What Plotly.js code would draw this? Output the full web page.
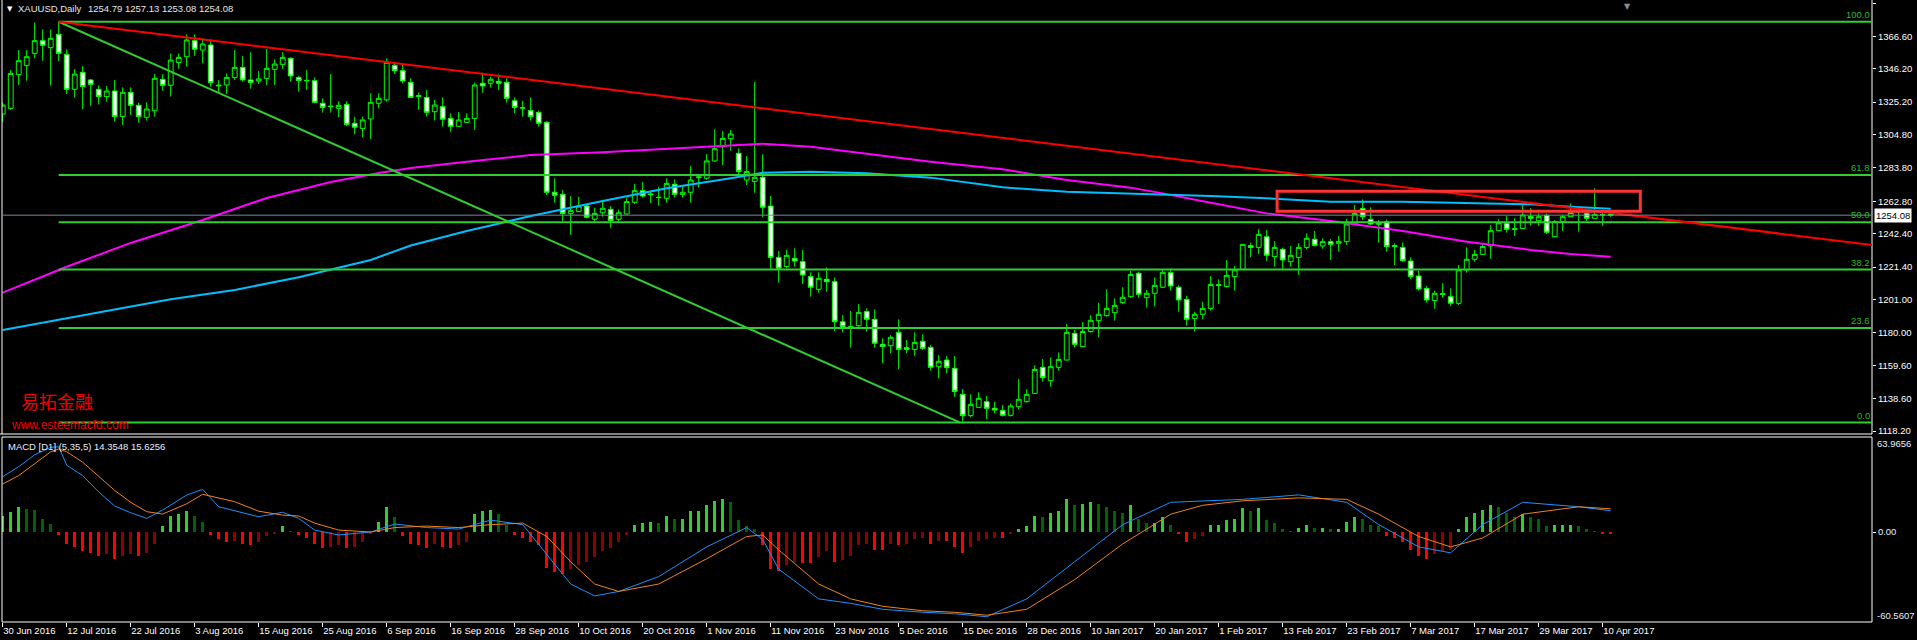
<!DOCTYPE html>
<html><head><meta charset="utf-8">
<script src="https://cdn.plot.ly/plotly-3.0.1.min.js"></script>
<style>html,body{margin:0;padding:0;background:#000;overflow:hidden}#chart{width:1917px;height:640px}</style>
</head><body><div id="chart"></div>
<script>
// ---- Candles (bar index 0 = 30 Jun 2016) ----
const openP = [1317.7,1321.3,1342.5,1348.2,1355.9,1363.9,1359.5,1367.9,1355.3,1333.3,1344.0,1339.2,1333.3,1328.7,1332.2,1316.1,1331.4,1323.2,1315.7,1319.8,
1339.6,1335.8,1350.1,1353.8,1363.9,1358.0,1361.2,1335.4,1336.0,1340.8,1347.1,1339.2,1338.5,1340.2,1345.9,1349.0,1352.8,1340.8,1338.9,1338.7,
1324.5,1322.4,1321.3,1323.8,1311.9,1308.7,1314.6,1324.5,1326.6,1348.4,1345.0,1337.7,1329.3,1328.2,1319.2,1322.4,1315.0,1310.0,1312.5,1315.0,
1337.1,1337.1,1338.3,1337.7,1326.1,1321.7,1319.9,1318.8,1312.5,1268.5,1267.2,1255.0,1256.3,1259.8,1251.5,1255.6,1257.7,1251.5,1254.8,1262.2,
1269.5,1267.4,1265.1,1264.7,1273.5,1267.2,1268.5,1277.7,1277.3,1288.2,1297.2,1302.2,1293.0,1276.2,1275.2,1277.9,1259.8,1227.5,1221.7,1226.9,
1224.8,1215.4,1207.4,1213.7,1212.2,1187.0,1183.9,1184.5,1193.5,1188.5,1172.8,1171.9,1180.3,1170.7,1169.6,1174.7,1170.9,1158.7,1162.9,1157.7,
1141.3,1127.9,1133.1,1136.7,1132.5,1131.2,1128.1,1133.5,1136.7,1141.9,1158.3,1149.9,1158.3,1162.9,1179.7,1171.3,1180.8,1187.7,1190.8,1192.7,
1199.0,1202.8,1217.5,1202.1,1204.9,1208.7,1217.9,1208.7,1201.1,1189.1,1191.7,1195.4,1210.3,1209.1,1215.4,1220.0,1234.9,1233.8,1240.5,1228.0,
1232.6,1224.8,1227.5,1233.8,1238.9,1234.7,1237.4,1236.4,1237.4,1248.5,1258.2,1251.4,1248.3,1250.0,1234.9,1233.8,1225.2,1215.8,1208.0,1200.3,
1204.7,1202.8,1198.6,1219.6,1226.3,1229.4,1234.7,1244.3,1248.9,1245.6,1245.6,1253.3,1250.6,1254.0,1240.5,1250.0,1253.1,1256.1,1255.2,1252.1,
1254.4,1254.79];
const highP = [1324.9,1345.4,1358.0,1358.0,1375.4,1371.0,1371.0,1375.8,1358.5,1346.1,1348.0,1339.8,1335.8,1335.4,1339.2,1334.5,1334.5,1324.9,1325.1,1342.9,
1342.9,1355.9,1355.9,1367.9,1367.9,1365.4,1364.7,1339.2,1343.3,1358.0,1354.3,1356.6,1344.8,1358.7,1352.2,1356.6,1353.4,1341.7,1345.4,1340.8,
1327.6,1342.9,1325.9,1325.9,1316.1,1316.1,1330.8,1330.8,1352.8,1350.7,1349.2,1340.2,1331.2,1332.9,1326.6,1328.2,1318.2,1319.0,1318.2,1337.5,
1343.8,1341.3,1342.7,1340.2,1328.2,1326.1,1328.2,1319.9,1313.3,1277.3,1269.9,1266.1,1265.7,1260.5,1258.8,1262.6,1259.8,1257.7,1264.7,1273.7,
1274.9,1269.5,1272.0,1277.3,1276.6,1272.4,1285.0,1279.4,1292.6,1308.1,1307.1,1307.7,1296.1,1291.3,1337.9,1292.4,1266.1,1231.5,1232.2,1233.2,
1232.2,1218.1,1218.1,1221.2,1214.9,1191.2,1193.8,1198.2,1195.4,1194.8,1176.6,1178.6,1188.5,1175.5,1180.3,1179.1,1172.4,1166.1,1165.4,1165.4,
1144.7,1141.3,1142.6,1140.3,1136.7,1134.6,1135.6,1151.0,1144.5,1159.6,1163.5,1164.6,1167.7,1185.6,1181.8,1186.8,1191.2,1199.0,1207.4,1201.7,
1208.7,1219.1,1218.5,1207.0,1214.9,1219.6,1220.6,1209.9,1203.4,1193.3,1199.6,1215.8,1213.7,1225.9,1222.1,1235.9,1236.8,1245.4,1244.7,1237.8,
1233.6,1234.7,1236.4,1242.6,1244.1,1239.5,1239.1,1241.0,1251.7,1260.5,1264.0,1259.0,1251.0,1251.4,1236.4,1236.9,1227.5,1219.1,1209.5,1206.6,
1211.2,1208.0,1222.7,1233.8,1232.2,1236.4,1247.9,1251.7,1253.6,1252.1,1260.5,1258.4,1255.2,1255.2,1251.0,1254.2,1261.5,1259.4,1257.8,1271.0,
1257.3,1257.13];
const lowP = [1312.9,1320.3,1336.0,1338.7,1352.8,1351.3,1335.6,1351.1,1330.3,1328.0,1320.7,1322.8,1323.8,1325.5,1312.9,1310.8,1317.1,1312.3,1313.6,1316.1,
1332.4,1328.7,1346.3,1347.5,1354.3,1349.6,1335.0,1330.8,1330.3,1339.2,1338.1,1333.7,1336.6,1336.0,1336.0,1346.1,1338.1,1331.8,1332.9,1324.5,
1318.6,1318.6,1315.7,1310.2,1305.0,1303.1,1301.8,1321.3,1325.5,1342.9,1337.0,1328.0,1320.3,1316.1,1313.6,1309.8,1306.6,1309.8,1312.3,1307.7,
1331.2,1334.3,1332.9,1324.9,1318.2,1316.1,1313.6,1309.8,1266.8,1261.9,1250.0,1241.6,1256.1,1252.1,1250.0,1253.1,1246.2,1250.0,1254.6,1261.1,
1265.1,1261.5,1260.1,1261.9,1265.1,1265.1,1261.9,1271.4,1276.2,1287.7,1285.6,1294.7,1279.4,1273.1,1268.2,1252.7,1220.0,1211.6,1220.6,1221.7,
1210.7,1202.8,1205.3,1205.9,1181.2,1180.3,1170.7,1183.3,1180.7,1170.7,1160.8,1167.1,1157.0,1167.1,1165.6,1169.2,1156.2,1151.4,1154.5,1139.8,
1124.1,1126.8,1132.9,1125.6,1129.4,1127.3,1127.3,1131.9,1136.1,1141.7,1149.3,1146.1,1156.2,1162.7,1170.7,1171.1,1180.1,1177.0,1190.2,1187.7,
1198.2,1202.1,1202.1,1195.9,1196.6,1208.4,1206.6,1193.3,1184.5,1180.7,1188.5,1194.0,1198.2,1208.4,1206.6,1219.6,1227.6,1229.6,1225.4,1221.7,
1220.0,1221.7,1216.4,1232.6,1234.3,1233.0,1225.9,1231.1,1235.3,1248.3,1251.0,1247.9,1236.8,1231.1,1222.7,1224.8,1213.9,1206.6,1199.0,1195.2,
1202.1,1196.9,1197.5,1217.9,1224.8,1229.0,1226.7,1243.9,1243.1,1241.0,1245.4,1247.5,1247.3,1242.2,1240.1,1244.1,1252.9,1243.7,1250.4,1251.9,
1247.3,1253.08];
const closeP = [1323.4,1343.3,1351.3,1353.8,1363.9,1361.0,1365.4,1355.9,1333.3,1342.9,1335.0,1336.4,1328.7,1332.2,1316.1,1331.4,1323.2,1316.1,1320.9,1340.2,
1335.8,1351.7,1353.4,1364.3,1358.5,1361.8,1337.5,1335.8,1340.8,1347.1,1339.2,1337.5,1339.8,1346.5,1349.2,1353.4,1341.7,1338.9,1338.7,1325.1,
1321.9,1322.6,1323.2,1311.2,1309.4,1314.0,1325.1,1327.6,1350.3,1345.0,1338.5,1328.2,1328.9,1318.8,1323.4,1314.4,1310.0,1314.0,1315.0,1336.0,
1335.4,1339.6,1337.1,1327.6,1321.9,1321.5,1316.1,1311.9,1268.5,1266.6,1255.0,1256.9,1259.8,1252.7,1255.2,1258.4,1250.6,1255.6,1262.6,1269.5,
1266.1,1267.0,1265.3,1274.1,1267.2,1268.5,1276.2,1278.1,1288.2,1295.9,1302.4,1305.2,1281.5,1281.5,1277.9,1259.0,1227.5,1220.6,1228.8,1225.2,
1216.4,1208.7,1214.3,1212.2,1187.0,1183.9,1183.5,1192.9,1188.5,1173.4,1171.5,1177.2,1169.6,1169.6,1174.0,1170.3,1158.3,1162.1,1158.1,1143.0,
1127.9,1135.0,1138.8,1132.5,1131.4,1128.1,1134.0,1138.2,1141.3,1157.0,1151.8,1158.7,1163.3,1180.3,1172.8,1180.8,1187.9,1191.7,1195.4,1197.3,
1202.4,1216.8,1204.3,1204.9,1209.9,1218.1,1209.5,1200.7,1188.5,1191.7,1195.4,1210.5,1209.9,1216.2,1219.6,1235.7,1233.8,1242.0,1228.8,1233.8,
1225.9,1228.8,1233.8,1239.5,1235.1,1237.4,1235.7,1237.6,1248.5,1255.2,1253.1,1248.5,1249.3,1234.3,1234.5,1225.4,1215.4,1207.6,1200.7,1204.9,
1204.3,1198.6,1219.6,1226.3,1229.4,1234.3,1244.3,1249.3,1245.2,1245.2,1254.2,1252.1,1253.1,1243.3,1250.0,1253.1,1255.7,1256.5,1252.1,1254.6,
1254.2,1254.08];

// ---- X tick labels (every 8 bars) ----
const tickIdx = [0,8,16,24,32,40,48,56,64,72,80,88,96,104,112,120,128,136,144,152,160,168,176,184,192,200];
const tickText = ['30 Jun 2016','12 Jul 2016','22 Jul 2016','3 Aug 2016','15 Aug 2016','25 Aug 2016','6 Sep 2016','16 Sep 2016','28 Sep 2016','10 Oct 2016',
'20 Oct 2016','1 Nov 2016','11 Nov 2016','23 Nov 2016','5 Dec 2016','15 Dec 2016','28 Dec 2016','10 Jan 2017','20 Jan 2017','1 Feb 2017',
'13 Feb 2017','23 Feb 2017','7 Mar 2017','17 Mar 2017','29 Mar 2017','10 Apr 2017'];

// ---- Price axis ticks ----
const priceTicks = [1387.60,1366.60,1346.20,1325.20,1304.80,1283.80,1262.80,1242.40,1221.40,1201.00,1180.00,1159.60,1138.60,1118.20];

// ---- Moving averages (sampled) ----
const maMagIdx = [0,8,16,25,33,41,47,51,58,66,75,83,91,95,101,108,116,125,133,141,145,151,158,166,175,183,191,196,201];
const maMagVal = [1205.3,1221.6,1236.6,1251.0,1264.9,1274.9,1280.6,1283.8,1287.7,1291.9,1293.6,1295.7,1298.2,1299.1,1297.2,1292.6,1287.7,1283.0,1276.2,1271.4,1267.8,1261.9,1255.2,1250.4,1244.1,1237.4,1232.2,1229.6,1227.9];
const maCyanIdx = [0,21,29,37,46,51,58,63,66,75,83,91,95,101,108,116,125,133,141,151,158,166,175,183,191,196,201];
const maCyanVal = [1181.8,1201.1,1207.0,1215.0,1225.9,1235.0,1244.1,1250.0,1253.5,1263.0,1271.0,1277.3,1280.8,1281.4,1280.4,1277.7,1271.6,1268.8,1267.8,1266.1,1264.7,1262.5,1262.5,1261.9,1260.9,1259.4,1258.1];

// ---- Drawn objects ----
const fibHigh = 1375.8, fibLow = 1123.5, fibStartIdx = 7;
const fibLevels = [100.0, 61.8, 50.0, 38.2, 23.6, 0.0];
const fibLabels = ['100.0','61.8','50.0','38.2','23.6','0.0'];
const fibDiagIdx = [7, 119.7];
const fibDiagVal = [1375.8, 1123.5];
const trendIdx = [7, 233.7];
const trendVal = [1375.8, 1235.3];
const boxIdx = [159.3, 204.7];
const boxVal = [1256.5, 1269.1];
const lastPrice = 1254.08;

// ---- MACD (5,35,5) ----
const macdHist = [10.8,13.2,17.0,15.5,14.8,8.7,5.4,-2,-8,-10,-13,-14,-16,-15,-18,-16,-15,-16,-14,-8,
4.2,10.8,12.1,14.1,11,6.9,-2,-5,-7,-6,-8,-9,-7,-3,-1,4.2,1,-2,-4,-8,
-11,-10,-9,-11,-10,-7,-1,6.5,17,10,-3,-8,-9,-11,-8,-10,-11,-9,-7,12,
14,15,12,5,-2,-4,-7,-9,-24,-27,-28,-25,-22,-20,-17,-13,-11,-7,-2,5,
6,7,6,11,9,9,14,14,18,21,22,20,8,4,2,-9,-25,-26,-22,-20,
-21,-21,-17,-13,-20,-19,-16,-9,-8,-12,-12,-8,-9,-8,-5,-4,-8,-6,-6,-10,
-14,-10,-6,-5,-4,-4,-1,2,4,11,10,13,14,22,18,19,20,19,17,14,
13,18,9,6,6,10,5,-1,-7,-5,-3,5,5,8,9,16,14,16,8,6,
2,1,3,5,3,3,2,2,7,10,9,5,4,-3,-4,-7,-12,-16,-18,-15,
-13,-12,2,10,13,15,18,17,13,10,12,10,9,4,5,5,5,4,2,1,
-1,-1.2];
const macdIdx = [0,2,4,6,7,8,10,12,14,16,18,20,23,25,27,29,32,35,37,39,42,46,49,53,57,61,65,68,71,74,77,82,88,93,95,97,102,106,110,115,119,123,128,134,140,146,150,155,162,168,172,177,181,185,190,197,201];
const macdMain = [37.2,44,52,57,57.4,45,38,27,17.5,13,9.2,14.8,24.9,28.7,17,14.3,10.3,13.3,9.2,1.3,-2,0,5.4,3,2,8,5,-15,-35,-43,-40,-30,-10,3,-5,-25,-45,-48,-52,-54,-55,-57,-45,-20,5,20,21,22,25,20,5,-10,-14,5,20,17,14.35];
const macdSignal = [32.3,38,46,54,55.9,54,47,37.2,28,20,13.7,12.1,19,25.4,23,20.4,14,11.4,10.8,6,1.3,0,3,4,3,5,6,-3,-20,-35,-40,-35,-18,-3,-2,-12,-35,-45,-50,-53,-54,-56,-52,-32,-8,12,18,21,23,22,12,-3,-10,-4,12,17,15.63];
const macdTop = 63.9656, macdBottom = -60.5607;

// ---- Geometry ----
const W = 1917, H = 640, ML = 2, MR = 45, MT = 0, MB = 18;
const plotH = H - MT - MB, plotW = W - ML - MR;
const mainBottomPx = 434, macdTopPx = 437;
const mainDom = [1 - mainBottomPx / plotH, 1];
const macdDom = [0, 1 - macdTopPx / plotH];
const pxPerBar = 8;
const xRange = [-0.0875, -0.0875 + plotW / pxPerBar];
const yMainRange = [1116.34, 1389.5];

const idx = openP.map((_, i) => i);
const histIdx = macdHist.map((_, i) => i);
const histColor = macdHist.map((v, i) => {
  const prev = i > 0 ? macdHist[i - 1] : v;
  if (v >= 0) return v >= prev ? '#32cd32' : '#006400';
  return v <= prev ? '#ff0000' : '#8b0000';
});
const green = '#00ff00', fibGreen = '#32cd32';
const font = 'Liberation Sans, Arial, sans-serif';

const traces = [
  {type:'candlestick', x: idx, open: openP, high: highP, low: lowP, close: closeP, xaxis:'x', yaxis:'y',
   increasing:{line:{color:green, width:1}, fillcolor:'#000000'},
   decreasing:{line:{color:green, width:1}, fillcolor:'#ffffff'},
   whiskerwidth:0, hoverinfo:'skip', showlegend:false},
  {type:'scatter', mode:'lines', x: maMagIdx, y: maMagVal, xaxis:'x', yaxis:'y', line:{color:'#ff00ff', width:2}, hoverinfo:'skip'},
  {type:'scatter', mode:'lines', x: maCyanIdx, y: maCyanVal, xaxis:'x', yaxis:'y', line:{color:'#00bfff', width:2}, hoverinfo:'skip'},
  {type:'bar', x: histIdx, y: macdHist, xaxis:'x', yaxis:'y2', width:0.4, marker:{color:histColor, line:{width:0}}, hoverinfo:'skip'},
  {type:'scatter', mode:'lines', x: macdIdx, y: macdMain, xaxis:'x', yaxis:'y2', line:{color:'#1e90ff', width:1}, hoverinfo:'skip'},
  {type:'scatter', mode:'lines', x: macdIdx, y: macdSignal, xaxis:'x', yaxis:'y2', line:{color:'#f0821e', width:1}, hoverinfo:'skip'}
];

const shapes = [];
shapes.push({type:'line', xref:'paper', yref:'paper', x0:0, x1:0, y0:mainDom[0], y1:1.02, line:{color:'#fff', width:1}});
shapes.push({type:'line', xref:'paper', yref:'paper', x0:-0.01, x1:1, y0:mainDom[0], y1:mainDom[0], line:{color:'#fff', width:1}});
shapes.push({type:'line', xref:'paper', yref:'paper', x0:1, x1:1, y0:mainDom[0], y1:1.02, line:{color:'#fff', width:1}});
shapes.push({type:'rect', xref:'paper', yref:'paper', x0:0, x1:1, y0:0, y1:macdDom[1], line:{color:'#fff', width:1}});
fibLevels.forEach(l => {
  const v = fibLow + (fibHigh - fibLow) * l / 100;
  shapes.push({type:'line', xref:'x', yref:'y', x0:fibStartIdx, x1:xRange[1], y0:v, y1:v, line:{color:fibGreen, width:2}});
});
shapes.push({type:'line', xref:'x', yref:'y', x0:fibDiagIdx[0], x1:fibDiagIdx[1], y0:fibDiagVal[0], y1:fibDiagVal[1], line:{color:fibGreen, width:2}});
shapes.push({type:'line', xref:'x', yref:'y', x0:trendIdx[0], x1:trendIdx[1], y0:trendVal[0], y1:trendVal[1], line:{color:'#ff0000', width:2}});
shapes.push({type:'line', xref:'paper', yref:'y', x0:0, x1:1, y0:lastPrice, y1:lastPrice, line:{color:'#778899', width:1}});
shapes.push({type:'rect', xref:'x', yref:'y', x0:boxIdx[0], x1:boxIdx[1], y0:boxVal[0], y1:boxVal[1], line:{color:'#ff3333', width:3}});

const pxX = px => (px - ML) / plotW;
const pxY = py => 1 - (py - MT) / plotH;
const annotations = [];
fibLevels.forEach((l, k) => {
  const v = fibLow + (fibHigh - fibLow) * l / 100;
  annotations.push({xref:'paper', yref:'y', x:1, y:v, xanchor:'right', yanchor:'bottom', text:fibLabels[k], showarrow:false,
    font:{family:font, size:9.5, color:'#2eb82e'}});
});
annotations.push({xref:'paper', yref:'paper', x:pxX(5), y:pxY(9), xanchor:'left', yanchor:'middle', text:'▼', showarrow:false, font:{family:'DejaVu Sans', size:7, color:'#ffffff'}});
annotations.push({xref:'paper', yref:'paper', x:pxX(16), y:pxY(9), xanchor:'left', yanchor:'middle', text:'XAUUSD,Daily', showarrow:false, font:{family:font, size:9.5, color:'#e6e6e6'}});
annotations.push({xref:'paper', yref:'paper', x:pxX(86), y:pxY(9), xanchor:'left', yanchor:'middle', text:'1254.79 1257.13 1253.08 1254.08', showarrow:false, font:{family:font, size:9.5, color:'#e6e6e6'}});
annotations.push({xref:'paper', yref:'paper', x:pxX(1627), y:pxY(6), xanchor:'center', yanchor:'middle', text:'▼', showarrow:false, font:{family:'DejaVu Sans', size:8, color:'#8c8c8c'}});
annotations.push({xref:'paper', yref:'paper', x:pxX(6), y:pxY(446), xanchor:'left', yanchor:'middle', text:'MACD [D1] (5,35,5) 14.3548 15.6256', showarrow:false, font:{family:font, size:9.5, color:'#e6eeff'}});
annotations.push({xref:'paper', yref:'paper', x:pxX(19), y:pxY(415.5), xanchor:'left', yanchor:'bottom', text:'易拓金融', showarrow:false, font:{family:'Noto Sans CJK SC', size:18, color:'#ee0000'}});
annotations.push({xref:'paper', yref:'paper', x:pxX(9), y:pxY(415.5), xanchor:'left', yanchor:'top', text:'www.esteemacfd.com', showarrow:false, font:{family:font, size:12, color:'#ee0000'}});
annotations.push({xref:'paper', yref:'y', x:1, y:lastPrice, xanchor:'left', yanchor:'middle', xshift:2, text:lastPrice.toFixed(2), showarrow:false, bgcolor:'#ffffff', borderpad:1, font:{family:font, size:9.5, color:'#000000'}});
annotations.push({xref:'paper', yref:'paper', x:1, y:pxY(443), xanchor:'left', yanchor:'middle', xshift:3, text:macdTop.toFixed(4), showarrow:false, font:{family:font, size:9.5, color:'#e6eeff'}});
annotations.push({xref:'paper', yref:'paper', x:1, y:pxY(615.5), xanchor:'left', yanchor:'middle', xshift:3, text:macdBottom.toFixed(4), showarrow:false, font:{family:font, size:9.5, color:'#e6eeff'}});

const layout = {
  width: W, height: H, paper_bgcolor:'#000000', plot_bgcolor:'#000000',
  margin:{l:ML, r:MR, t:MT, b:MB, pad:0}, showlegend:false,
  boxgap:0.4, boxgroupgap:0, bargap:0, hovermode:false,
  xaxis:{range:xRange, anchor:'y2', showgrid:false, zeroline:false, showline:false,
    tickmode:'array', tickvals:tickIdx, ticktext:tickText, ticks:'outside', ticklen:4, tickcolor:'#ffffff', tickwidth:1,
    ticklabelposition:'outside right', tickfont:{family:font, size:9.5, color:'#ffffff'}, rangeslider:{visible:false}, fixedrange:true},
  yaxis:{domain:mainDom, range:yMainRange, side:'right', showgrid:false, zeroline:false, showline:false,
    tickmode:'array', tickvals:priceTicks, ticktext:priceTicks.map(v => v.toFixed(2)), ticks:'outside', ticklen:3, tickcolor:'#ffffff',
    tickfont:{family:font, size:9.5, color:'#ffffff'}, fixedrange:true},
  yaxis2:{domain:macdDom, range:[macdBottom, macdTop], side:'right', showgrid:false, zeroline:false, showline:false,
    tickmode:'array', tickvals:[0], ticktext:['0.00'], ticks:'outside', ticklen:3, tickcolor:'#ffffff',
    tickfont:{family:font, size:9.5, color:'#e6eeff'}, fixedrange:true},
  shapes: shapes, annotations: annotations
};
Plotly.newPlot('chart', traces, layout, {staticPlot:true, displayModeBar:false});
</script>
</body></html>
